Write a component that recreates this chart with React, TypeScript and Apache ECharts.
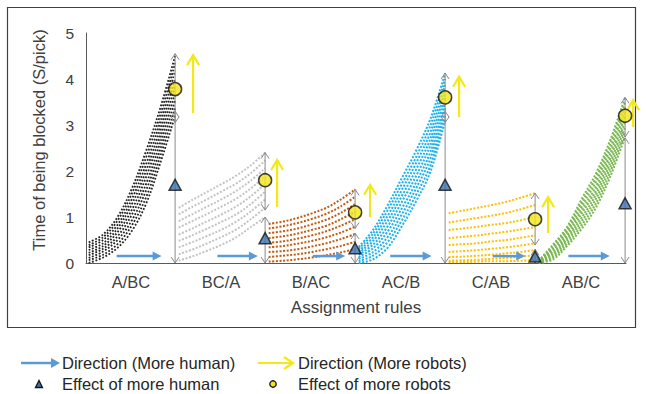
import React, { useEffect, useRef } from "react";
import * as echarts from "echarts";

// Assignment rules along the x axis
const rules = ["A/BC", "BC/A", "B/AC", "AC/B", "C/AB", "AB/C"];

// Steps of the human count inside each rule's block
const humanSteps = [0, 1, 2, 3, 4, 5, 6];

// Time of being blocked (s/pick); one row per robot count, fewest robots first
const timeABC = [
  [0.0, 0.12, 0.33, 0.7, 1.3, 2.2, 3.2],
  [0.06, 0.18, 0.41, 0.82, 1.44, 2.35, 3.36],
  [0.11, 0.25, 0.5, 0.93, 1.59, 2.5, 3.53],
  [0.17, 0.31, 0.58, 1.05, 1.73, 2.65, 3.69],
  [0.22, 0.37, 0.67, 1.16, 1.88, 2.8, 3.85],
  [0.28, 0.43, 0.75, 1.28, 2.02, 2.95, 4.01],
  [0.34, 0.5, 0.83, 1.39, 2.16, 3.1, 4.18],
  [0.39, 0.56, 0.92, 1.51, 2.31, 3.25, 4.34],
  [0.45, 0.62, 1.0, 1.62, 2.45, 3.4, 4.5],
];
const timeBCA = [
  [0.05, 0.15, 0.27, 0.4, 0.56, 0.78, 1.0],
  [0.19, 0.3, 0.43, 0.57, 0.73, 0.95, 1.2],
  [0.34, 0.46, 0.59, 0.73, 0.9, 1.12, 1.38],
  [0.48, 0.61, 0.75, 0.9, 1.06, 1.28, 1.55],
  [0.62, 0.76, 0.91, 1.06, 1.23, 1.45, 1.72],
  [0.77, 0.92, 1.07, 1.23, 1.4, 1.62, 1.89],
  [0.91, 1.07, 1.23, 1.39, 1.57, 1.79, 2.06],
  [1.06, 1.23, 1.39, 1.56, 1.73, 1.95, 2.23],
  [1.2, 1.38, 1.55, 1.72, 1.9, 2.12, 2.4],
];
const timeBAC = [
  [0.03, 0.05, 0.08, 0.12, 0.17, 0.23, 0.3],
  [0.13, 0.16, 0.19, 0.24, 0.3, 0.37, 0.46],
  [0.24, 0.26, 0.3, 0.36, 0.43, 0.52, 0.63],
  [0.34, 0.37, 0.42, 0.48, 0.56, 0.66, 0.79],
  [0.44, 0.47, 0.53, 0.6, 0.69, 0.81, 0.95],
  [0.54, 0.58, 0.64, 0.72, 0.81, 0.95, 1.11],
  [0.65, 0.69, 0.75, 0.84, 0.94, 1.09, 1.28],
  [0.75, 0.8, 0.87, 0.96, 1.07, 1.23, 1.44],
  [0.85, 0.9, 0.98, 1.08, 1.2, 1.38, 1.6],
];
const timeACB = [
  [0.0, 0.08, 0.33, 0.8, 1.35, 2.0, 3.1],
  [0.04, 0.16, 0.45, 0.93, 1.49, 2.14, 3.23],
  [0.09, 0.24, 0.56, 1.06, 1.63, 2.29, 3.36],
  [0.13, 0.32, 0.68, 1.19, 1.76, 2.43, 3.49],
  [0.18, 0.4, 0.79, 1.33, 1.9, 2.58, 3.62],
  [0.22, 0.48, 0.91, 1.46, 2.04, 2.72, 3.74],
  [0.26, 0.56, 1.02, 1.59, 2.18, 2.86, 3.87],
  [0.31, 0.64, 1.14, 1.72, 2.31, 3.01, 4.0],
  [0.35, 0.72, 1.25, 1.85, 2.45, 3.15, 4.13],
];
const timeCAB = [
  [0.02, 0.02, 0.03, 0.04, 0.04, 0.05, 0.06],
  [0.05, 0.06, 0.07, 0.09, 0.11, 0.14, 0.17],
  [0.13, 0.14, 0.16, 0.18, 0.21, 0.24, 0.28],
  [0.24, 0.26, 0.28, 0.31, 0.34, 0.38, 0.43],
  [0.39, 0.41, 0.43, 0.47, 0.5, 0.55, 0.6],
  [0.54, 0.57, 0.6, 0.64, 0.68, 0.73, 0.78],
  [0.72, 0.75, 0.79, 0.83, 0.87, 0.93, 1.0],
  [0.88, 0.93, 0.98, 1.03, 1.09, 1.17, 1.26],
  [1.08, 1.14, 1.2, 1.26, 1.33, 1.42, 1.52],
];
const timeABC2 = [
  [0.0, 0.08, 0.38, 0.75, 1.22, 1.9, 2.75],
  [0.01, 0.12, 0.43, 0.83, 1.31, 2.0, 2.86],
  [0.01, 0.16, 0.49, 0.91, 1.41, 2.1, 2.96],
  [0.02, 0.2, 0.54, 0.99, 1.5, 2.2, 3.07],
  [0.03, 0.24, 0.59, 1.08, 1.59, 2.3, 3.18],
  [0.03, 0.28, 0.64, 1.16, 1.68, 2.4, 3.28],
  [0.04, 0.32, 0.7, 1.24, 1.78, 2.5, 3.39],
  [0.04, 0.36, 0.75, 1.32, 1.87, 2.6, 3.49],
  [0.05, 0.4, 0.8, 1.4, 1.96, 2.7, 3.6],
];
const timeByRule = [timeABC, timeBCA, timeBAC, timeACB, timeCAB, timeABC2];

// Ranges marked at the end of every block
const humanRangeTop = [3.3, 1.0, 0.65, 3.3, 0.3, 2.72];
const robotRangeBottom = [3.05, 1.15, 0.75, 3.05, 0.39, 2.74];
const robotRangeTop = [4.55, 2.4, 1.6, 4.13, 1.52, 3.6];
const humanEffect = [1.7, 0.54, 0.32, 1.7, 0.14, 1.3];
const robotEffect = [3.78, 1.8, 1.1, 3.6, 0.95, 3.2];
const robotArrowFrom = [3.26, 1.22, 1.0, 3.17, 0.65, 2.96];
const robotArrowTo = [4.52, 2.24, 1.7, 4.05, 1.43, 3.54];

// Where the "more human" arrow sits inside each block (fraction of the block)
const humanArrowSpan = [
  [0.34, 0.84],
  [0.46, 0.91],
  [0.52, 0.88],
  [0.38, 0.84],
  [0.52, 0.88],
  [0.36, 0.82],
];
const humanArrowLevel = 0.15;
// Horizontal gap (px) between the range marker and the "more robots" arrow
const robotArrowGap = [18, 12, 15, 14, 13, 8];

const palette = ["#242424", "#c4c4c4", "#c55a11", "#1fb2ec", "#ffc000", "#78b850"];
const BLUE = "#5b9bd5";
const YELLOW = "#f2e81a";
const GRAY = "#8a8a8a";
const TEXT = "#404040";
const FONT = "'Liberation Sans', Arial, sans-serif";
const LABEL_SIZE = 16.5;

const blockX = (g: number, s: number) => g + 0.03 + s * 0.16;
const blockEnd = (g: number) => g + 0.99;

export default function App() {
  const ref = useRef<HTMLDivElement>(null);

  useEffect(() => {
    if (!ref.current) return;
    const chart = echarts.init(ref.current, null, { renderer: "svg" });

    const curveSeries: any[] = [];
    timeByRule.forEach((rows, g) => {
      rows.forEach((row) => {
        curveSeries.push({
          type: "line",
          data: row.map((v, i) => [blockX(g, humanSteps[i]), v]),
          smooth: 0.35,
          showSymbol: false,
          silent: true,
          z: 2,
          lineStyle: {
            color: palette[g],
            width: g === 0 ? 1.8 : 2,
            type: g === 0 ? [1.8, 1.8] : [2, 1.6],
          },
        });
      });
    });

    const vArrowHead = (x: number, y: number, dir: number, w: number, h: number) => [
      [x - w, y + dir * h],
      [x, y],
      [x + w, y + dir * h],
    ];

    const annotations = {
      type: "custom",
      coordinateSystem: "cartesian2d",
      clip: false,
      silent: true,
      z: 5,
      data: rules.map((_, g) => [g]),
      renderItem: (params: any, api: any) => {
        const g = params.dataIndex;
        const xe = blockEnd(g);
        const [px, y0] = api.coord([xe, 0]);
        const yHt = api.coord([xe, humanRangeTop[g]])[1];
        const yRb = api.coord([xe, robotRangeBottom[g]])[1];
        const yRt = api.coord([xe, robotRangeTop[g]])[1];
        const grayStyle = { stroke: GRAY, lineWidth: 1, fill: null };
        const children: any[] = [
          { type: "line", shape: { x1: px, y1: y0, x2: px, y2: yHt }, style: grayStyle },
          { type: "polyline", shape: { points: vArrowHead(px, y0, -1, 4, 6) }, style: grayStyle },
          { type: "polyline", shape: { points: vArrowHead(px, yHt, 1, 4, 6) }, style: grayStyle },
          { type: "line", shape: { x1: px, y1: yRb, x2: px, y2: yRt }, style: grayStyle },
          { type: "polyline", shape: { points: vArrowHead(px, yRb, -1, 4, 6) }, style: grayStyle },
          { type: "polyline", shape: { points: vArrowHead(px, yRt, 1, 4, 6) }, style: grayStyle },
        ];
        // more human: horizontal blue arrow
        const [a, b] = humanArrowSpan[g];
        const [hx1, hy] = api.coord([g + a, humanArrowLevel]);
        const hx2 = api.coord([g + b, humanArrowLevel])[0];
        children.push(
          { type: "line", shape: { x1: hx1, y1: hy, x2: hx2 - 7, y2: hy }, style: { stroke: BLUE, lineWidth: 2.5 } },
          {
            type: "polygon",
            shape: { points: [[hx2 - 9, hy - 4.5], [hx2, hy], [hx2 - 9, hy + 4.5]] },
            style: { fill: BLUE },
          }
        );
        // more robots: vertical yellow arrow
        const yx = px + robotArrowGap[g];
        const yf = api.coord([xe, robotArrowFrom[g]])[1];
        const yt = api.coord([xe, robotArrowTo[g]])[1];
        const yStyle = { stroke: YELLOW, lineWidth: 2.2, fill: null };
        children.push(
          { type: "line", shape: { x1: yx, y1: yf, x2: yx, y2: yt }, style: yStyle },
          { type: "polyline", shape: { points: vArrowHead(yx, yt, 1, 6, 10) }, style: yStyle }
        );
        return { type: "group", children };
      },
    };

    const markerStyle = { borderColor: "#141414", borderWidth: 1.5 };

    const legendY1 = 363;
    const legendY2 = 384;
    const legendText = (x: number, y: number, text: string) => ({
      type: "text",
      x,
      y,
      style: { text, fill: "#262626", font: `16.5px ${FONT}`, verticalAlign: "middle" },
    });

    chart.setOption({
      animation: false,
      backgroundColor: "#ffffff",
      grid: { left: 86, right: 20, top: 33, bottom: 131 },
      xAxis: {
        type: "value",
        min: 0,
        max: 6,
        interval: 0.5,
        name: "Assignment rules",
        nameLocation: "middle",
        nameGap: 36,
        nameTextStyle: { fontSize: 17, color: TEXT, fontFamily: FONT },
        axisLine: { lineStyle: { color: "#595959", width: 1 } },
        axisTick: { show: false },
        splitLine: { show: false },
        axisLabel: {
          fontSize: LABEL_SIZE,
          color: TEXT,
          fontFamily: FONT,
          margin: 10,
          formatter: (v: number) => {
            const i = Math.floor(v);
            return Math.abs(v - i - 0.5) < 1e-6 ? rules[i] : "";
          },
        },
      },
      yAxis: {
        type: "value",
        min: 0,
        max: 5,
        interval: 1,
        name: "Time of being blocked (S/pick)",
        nameLocation: "middle",
        nameGap: 39,
        nameTextStyle: { fontSize: LABEL_SIZE, color: TEXT, fontFamily: FONT, padding: [0, 0, 0, 16] },
        axisLine: { show: true, lineStyle: { color: "#595959", width: 1 } },
        axisTick: { show: false },
        splitLine: { show: false },
        axisLabel: { fontSize: 15.5, color: TEXT, fontFamily: FONT, margin: 12 },
      },
      series: [
        ...curveSeries,
        annotations,
        {
          type: "scatter",
          silent: true,
          z: 10,
          symbol: "triangle",
          symbolSize: [12, 11],
          itemStyle: { color: "#3a72b0", ...markerStyle },
          data: humanEffect.map((v, g) => [blockEnd(g), v]),
        },
        {
          type: "scatter",
          silent: true,
          z: 10,
          symbol: "circle",
          symbolSize: 13,
          itemStyle: { color: "#f4e51c", ...markerStyle },
          data: robotEffect.map((v, g) => [blockEnd(g), v]),
        },
      ],
      graphic: [
        {
          type: "rect",
          shape: { x: 7.5, y: 7.5, width: 628, height: 320 },
          style: { fill: "none", stroke: "#404040", lineWidth: 1.2 },
          silent: true,
        },
        // legend
        {
          type: "group",
          silent: true,
          children: [
            { type: "line", shape: { x1: 21, y1: legendY1, x2: 52, y2: legendY1 }, style: { stroke: BLUE, lineWidth: 2.5 } },
            {
              type: "polygon",
              shape: { points: [[51, legendY1 - 5], [60, legendY1], [51, legendY1 + 5]] },
              style: { fill: BLUE },
            },
            legendText(62, legendY1, "Direction (More human)"),
            { type: "line", shape: { x1: 258, y1: legendY1, x2: 293, y2: legendY1 }, style: { stroke: YELLOW, lineWidth: 2.2 } },
            {
              type: "polyline",
              shape: { points: [[284, legendY1 - 6], [293, legendY1], [284, legendY1 + 6]] },
              style: { stroke: YELLOW, lineWidth: 2.2, fill: null },
            },
            legendText(298, legendY1, "Direction (More robots)"),
            {
              type: "polygon",
              shape: { points: [[35.5, legendY2 + 3.5], [39, legendY2 - 3.5], [42.5, legendY2 + 3.5]] },
              style: { fill: "#3a72b0", stroke: "#141414", lineWidth: 1.3 },
            },
            legendText(62, legendY2, "Effect of more human"),
            {
              type: "circle",
              shape: { cx: 273, cy: legendY2, r: 3.2 },
              style: { fill: "#f4e51c", stroke: "#141414", lineWidth: 1.3 },
            },
            legendText(298, legendY2, "Effect of more robots"),
          ],
        },
      ],
    });

    return () => chart.dispose();
  }, []);

  return (
    <div
      ref={ref}
      style={{ position: "absolute", left: 0, top: 0, width: 646, height: 394, background: "#fff" }}
    />
  );
}
